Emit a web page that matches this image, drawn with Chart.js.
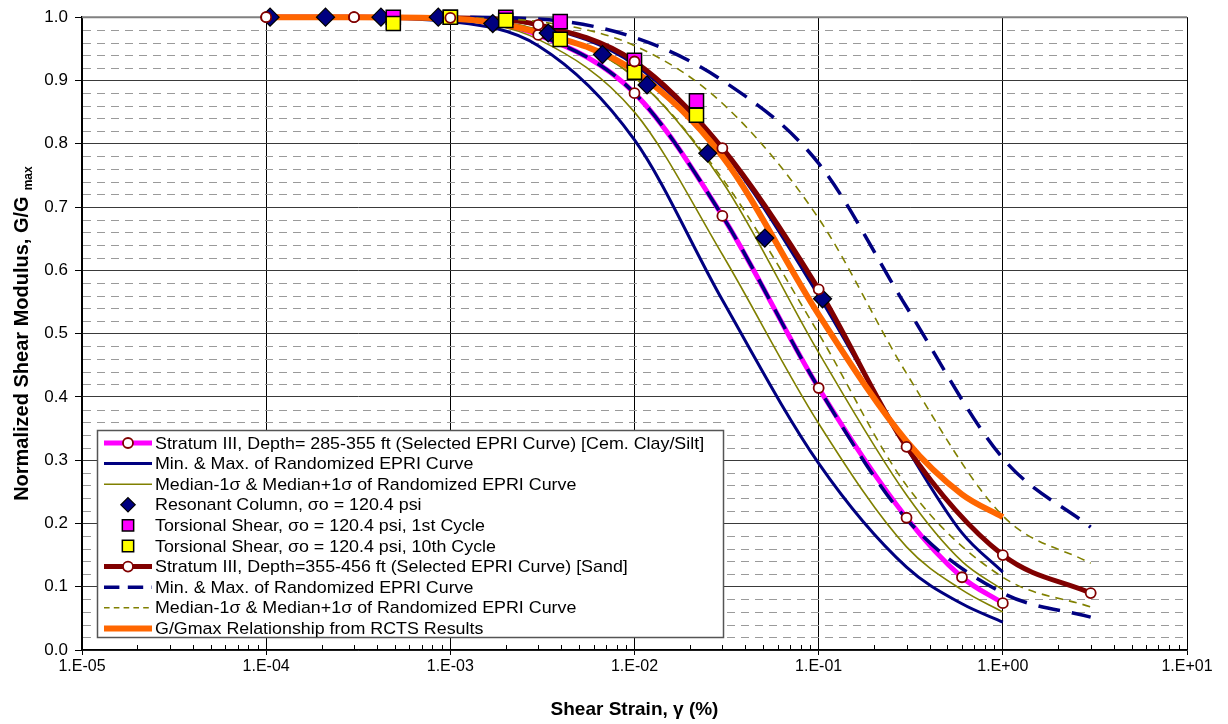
<!DOCTYPE html>
<html>
<head>
<meta charset="utf-8">
<script src="https://cdn.jsdelivr.net/npm/chart.js@4.4.1/dist/chart.umd.min.js"></script>
<style>
  html, body { margin: 0; padding: 0; background: #ffffff; }
  #wrap { width: 1228px; height: 724px; position: relative; }
</style>
</head>
<body>
<div id="wrap"><canvas id="chart" width="1228" height="724"></canvas></div>
<script>
// ---- Stratum III, 285-355 ft (cemented clay / silt) EPRI curve family ----
const strainClay = [1e-4, 3e-4, 1e-3, 3e-3, 1e-2, 3e-2, 1e-1, 3e-1, 6e-1, 1];
const clayMedian = [1.000, 1.000, 0.998, 0.972, 0.880, 0.686, 0.414, 0.209, 0.115, 0.074];
const clayMin    = [1.000, 0.999, 0.993, 0.955, 0.806, 0.553, 0.295, 0.131, 0.073, 0.044];
const clayMax    = [1.000, 1.000, 0.999, 0.987, 0.925, 0.790, 0.560, 0.320, 0.185, 0.123];
const clayMinus1 = [1.000, 1.000, 0.996, 0.965, 0.850, 0.625, 0.358, 0.163, 0.095, 0.060];
const clayPlus1  = [1.000, 1.000, 0.999, 0.980, 0.905, 0.740, 0.470, 0.245, 0.140, 0.095];

// ---- Stratum III, 355-456 ft (sand) EPRI curve family ----
const strainSand = [1e-4, 3e-4, 1e-3, 3e-3, 1e-2, 3e-2, 1e-1, 3e-1, 1, 3];
const sandMedian = [1.000, 1.000, 0.999, 0.988, 0.930, 0.793, 0.570, 0.321, 0.150, 0.090];
const sandMin    = [1.000, 1.000, 0.998, 0.972, 0.880, 0.686, 0.414, 0.207, 0.090, 0.052];
const sandMax    = [1.000, 1.000, 1.000, 0.997, 0.968, 0.900, 0.769, 0.542, 0.303, 0.194];
const sandMinus1 = [1.000, 1.000, 0.998, 0.980, 0.905, 0.745, 0.500, 0.260, 0.115, 0.068];
const sandPlus1  = [1.000, 1.000, 0.999, 0.993, 0.955, 0.864, 0.682, 0.437, 0.212, 0.137];

// ---- Fitted relationship from RCTS testing ----
const strainRcts = [1e-4, 3e-4, 1e-3, 3e-3, 1e-2, 3e-2, 1e-1, 3e-1, 6e-1, 1];
const rctsFit    = [1.000, 1.000, 0.998, 0.976, 0.915, 0.780, 0.530, 0.330, 0.246, 0.210];

// ---- Laboratory measurements ----
const rcStrain   = [1.05e-4, 2.1e-4, 4.2e-4, 8.6e-4, 1.7e-3, 3.4e-3, 6.7e-3, 1.17e-2, 2.5e-2, 5.1e-2, 1.05e-1];
const rcModulus  = [1.000, 1.000, 1.000, 1.000, 0.990, 0.975, 0.941, 0.893, 0.785, 0.651, 0.555];
const tsStrain   = [4.9e-4, 1.0e-3, 2.0e-3, 3.95e-3, 1.0e-2, 2.17e-2];
const ts1Modulus = [1.000, 1.000, 1.000, 0.993, 0.932, 0.868];
const ts10Modulus= [0.990, 1.000, 0.995, 0.965, 0.913, 0.845];

// ---- Axis ticks and legend text ----
const xDecades = [1e-5, 1e-4, 1e-3, 1e-2, 1e-1, 1, 10];
const xTickLabels = ['1.E-05', '1.E-04', '1.E-03', '1.E-02', '1.E-01', '1.E+00', '1.E+01'];
const yMajorStep = 0.1;
const yMinorStep = 0.02;
const legendLabels = [
  'Stratum III, Depth= 285-355 ft (Selected EPRI Curve) [Cem. Clay/Silt]',
  'Min. & Max. of Randomized EPRI Curve',
  'Median-1\u03c3 & Median+1\u03c3 of Randomized EPRI Curve',
  'Resonant Column, \u03c3o = 120.4 psi',
  'Torsional Shear, \u03c3o = 120.4 psi, 1st Cycle',
  'Torsional Shear, \u03c3o = 120.4 psi, 10th Cycle',
  'Stratum III, Depth=355-456 ft (Selected EPRI Curve) [Sand]',
  'Min. & Max. of Randomized EPRI Curve',
  'Median-1\u03c3 & Median+1\u03c3 of Randomized EPRI Curve',
  'G/Gmax Relationship from RCTS Results'
];

const FONT = "'Liberation Sans', Arial, sans-serif";
const NARROW = "'Liberation Sans Narrow', 'Arial Narrow', 'Liberation Sans', sans-serif";
const C = {
  pink: '#FF00FF', navy: '#000080', olive: '#808000', maroon: '#800000',
  orange: '#FF6600', yellow: '#FFFF00'
};

const pts = (xs, ys) => xs.map((x, i) => ({ x, y: ys[i] }));

function curve(label, xs, ys, color, width, dash, order) {
  return {
    label, data: pts(xs, ys), borderColor: color, backgroundColor: color,
    borderWidth: width, borderDash: dash || [], pointRadius: 0, pointHoverRadius: 0,
    cubicInterpolationMode: 'monotone', fill: false, order, showLine: true, clip: false
  };
}
function markers(label, xs, ys, style, radius, fill, stroke, bw, order) {
  return {
    label, data: pts(xs, ys), showLine: false, pointStyle: style, pointRadius: radius,
    pointHoverRadius: radius, pointBackgroundColor: fill, pointBorderColor: stroke,
    pointBorderWidth: bw, borderColor: stroke, backgroundColor: fill, order, clip: false
  };
}

const datasets = [
  curve(legendLabels[0], strainClay, clayMedian, C.pink, 5, null, 100),        // 0
  curve(legendLabels[1], strainClay, clayMin, C.navy, 3, null, 99),             // 1
  curve('', strainClay, clayMax, C.navy, 3, null, 98),                          // 2
  curve(legendLabels[2], strainClay, clayMinus1, C.olive, 1.6, null, 97),       // 3
  curve('', strainClay, clayPlus1, C.olive, 1.6, null, 96),                     // 4
  curve(legendLabels[6], strainSand, sandMedian, C.maroon, 5, null, 95),        // 5
  curve(legendLabels[7], strainSand, sandMin, C.navy, 3.5, [22, 12], 94),       // 6
  curve('', strainSand, sandMax, C.navy, 3.5, [22, 12], 93),                    // 7
  curve(legendLabels[8], strainSand, sandMinus1, C.olive, 1.6, [8, 6], 92),     // 8
  curve('', strainSand, sandPlus1, C.olive, 1.6, [8, 6], 91),                   // 9
  curve(legendLabels[9], strainRcts, rctsFit, C.orange, 6, null, 90),           // 10
  markers(legendLabels[0], strainClay, clayMedian, 'circle', 5, '#ffffff', C.maroon, 1.8, 9), // 11
  markers(legendLabels[3], rcStrain, rcModulus, 'rectRot', 9, C.navy, '#000000', 1.2, 8),     // 12
  markers(legendLabels[4], tsStrain, ts1Modulus, 'rect', 10, C.pink, '#000000', 1.5, 7),      // 13
  markers(legendLabels[5], tsStrain, ts10Modulus, 'rect', 10, C.yellow, '#000000', 1.5, 6),   // 14
  markers(legendLabels[6], strainSand, sandMedian, 'circle', 5, '#ffffff', C.maroon, 1.8, 5)  // 15
];

// legend rows: [line dataset index or null, marker dataset index or null]
const legendRows = [
  [0, 11], [1, null], [3, null], [null, 12], [null, 13], [null, 14],
  [5, 15], [6, null], [8, null], [10, null]
];

const isMajorY = v => Math.abs(v / yMajorStep - Math.round(v / yMajorStep)) < 1e-6;

function drawMarkerPath(ctx, style, r, x, y) {
  if (style === 'circle') {
    ctx.arc(x, y, r, 0, Math.PI * 2);
  } else if (style === 'rectRot') {
    ctx.moveTo(x, y - r); ctx.lineTo(x + r, y); ctx.lineTo(x, y + r); ctx.lineTo(x - r, y); ctx.closePath();
  } else {
    const s = r * Math.SQRT1_2;
    ctx.rect(x - s, y - s, 2 * s, 2 * s);
  }
}

const decor = {
  id: 'decor',
  beforeDatasetsDraw(chart) {
    const { ctx, chartArea: a, scales: { x, y } } = chart;
    ctx.save();
    // dashed minor grid lines
    ctx.strokeStyle = '#9a9a9a';
    ctx.lineWidth = 1;
    ctx.setLineDash([8, 6]);
    for (let k = 1; k < Math.round(1 / yMinorStep); k++) {
      const v = k * yMinorStep;
      if (isMajorY(v)) continue;
      const py = Math.round(y.getPixelForValue(v)) + 0.5;
      ctx.beginPath();
      ctx.moveTo(a.left + 1, py);
      ctx.lineTo(a.right, py);
      ctx.stroke();
    }
    ctx.setLineDash([]);
    // minor tick marks along the strain axis, pointing into the plot
    ctx.strokeStyle = '#000000';
    for (let d = 0; d < xDecades.length - 1; d++) {
      for (let m = 2; m <= 9; m++) {
        const px = Math.round(x.getPixelForValue(xDecades[d] * m)) + 0.5;
        ctx.beginPath();
        ctx.moveTo(px, a.bottom);
        ctx.lineTo(px, a.bottom - 5);
        ctx.stroke();
      }
    }
    // top frame edge
    ctx.strokeStyle = '#808080';
    ctx.lineWidth = 2;
    ctx.beginPath();
    ctx.moveTo(a.left, a.top);
    ctx.lineTo(a.right, a.top);
    ctx.stroke();
    ctx.restore();
  },
  afterDraw(chart) {
    const { ctx, chartArea: a } = chart;
    ctx.save();
    // legend box
    const bx = 97, by = 430, bw = 626, bh = 207, rowH = 20.6, firstY = 443;
    ctx.fillStyle = '#ffffff';
    ctx.fillRect(bx, by, bw, bh);
    ctx.strokeStyle = '#555555';
    ctx.lineWidth = 1.5;
    ctx.strokeRect(bx + 0.5, by + 0.5, bw, bh);
    ctx.textBaseline = 'middle';
    ctx.textAlign = 'left';
    legendRows.forEach((row, i) => {
      const cy = firstY + i * rowH;
      const [li, mi] = row;
      if (li !== null) {
        const ds = chart.data.datasets[li];
        ctx.strokeStyle = ds.borderColor;
        ctx.lineWidth = ds.borderWidth;
        ctx.setLineDash(ds.borderDash.length ? ds.borderDash.map(v => v * 0.7) : []);
        ctx.beginPath();
        ctx.moveTo(104, cy);
        ctx.lineTo(152, cy);
        ctx.stroke();
        ctx.setLineDash([]);
      }
      if (mi !== null) {
        const ds = chart.data.datasets[mi];
        const r = ds.pointStyle === 'circle' ? ds.pointRadius : ds.pointRadius * 0.8;
        ctx.fillStyle = ds.pointBackgroundColor;
        ctx.strokeStyle = ds.pointBorderColor;
        ctx.lineWidth = ds.pointBorderWidth;
        ctx.beginPath();
        drawMarkerPath(ctx, ds.pointStyle, r, 128, cy);
        ctx.fill();
        ctx.stroke();
      }
      // legend text: slightly wide face, as in the printed chart
      ctx.save();
      ctx.translate(155, cy + 1);
      ctx.scale(1.05, 1);
      ctx.font = '17px ' + FONT;
      ctx.fillStyle = '#000000';
      ctx.fillText(legendLabels[i], 0, 0);
      ctx.restore();
    });
    // y-axis title with subscript
    ctx.save();
    ctx.translate(21, (a.top + a.bottom) / 2);
    ctx.rotate(-Math.PI / 2);
    const mainT = 'Normalized Shear Modulus, G/G';
    const subT = 'max';
    ctx.font = 'bold 20px ' + FONT;
    const wMain = ctx.measureText(mainT).width;
    ctx.font = 'bold 12px ' + FONT;
    const wSub = ctx.measureText(subT).width;
    const start = -(wMain + 6 + wSub) / 2;
    ctx.fillStyle = '#000000';
    ctx.textAlign = 'left';
    ctx.textBaseline = 'alphabetic';
    ctx.font = 'bold 20px ' + FONT;
    ctx.fillText(mainT, start, 7);
    ctx.font = 'bold 12px ' + FONT;
    ctx.fillText(subT, start + wMain + 6, 11);
    ctx.restore();
    // x-axis title
    ctx.font = 'bold 19px ' + NARROW;
    ctx.textAlign = 'center';
    ctx.textBaseline = 'middle';
    ctx.fillStyle = '#000000';
    ctx.fillText('Shear Strain, \u03b3 (%)', (a.left + a.right) / 2, 710);
    ctx.restore();
  }
};

new Chart(document.getElementById('chart'), {
  type: 'line',
  data: { datasets },
  options: {
    responsive: false,
    animation: false,
    devicePixelRatio: 1,
    events: [],
    layout: { padding: { top: 17, right: 41, left: 0, bottom: 0 } },
    plugins: { legend: { display: false }, tooltip: { enabled: false }, title: { display: false } },
    scales: {
      x: {
        type: 'logarithmic',
        min: xDecades[0],
        max: xDecades[xDecades.length - 1],
        afterFit(s) { s.height = 74; },
        afterBuildTicks(s) { s.ticks = xDecades.map(v => ({ value: v, major: true })); },
        grid: { color: '#000000', lineWidth: 1, tickLength: 5, tickColor: '#000000', drawTicks: true },
        border: { color: '#000000', width: 1.5 },
        ticks: {
          autoSkip: false, maxRotation: 0, padding: 2, color: '#000000',
          font: { family: NARROW, size: 16 },
          callback: (v) => { const i = xDecades.findIndex(d => Math.abs(d - v) / d < 1e-6); return i >= 0 ? xTickLabels[i] : ''; }
        }
      },
      y: {
        min: 0, max: 1,
        afterFit(s) { s.width = 82; },
        grid: {
          color: (c) => c.tick && c.tick.value >= 1 - 1e-9 ? 'rgba(0,0,0,0)' : '#3a3a3a',
          lineWidth: 1, tickLength: 7, tickColor: '#000000'
        },
        border: { color: '#000000', width: 1.5 },
        ticks: {
          stepSize: yMajorStep, padding: 7, color: '#000000',
          font: { family: FONT, size: 17 },
          callback: (v) => v.toFixed(1)
        }
      }
    }
  },
  plugins: [decor]
});
</script>
</body>
</html>
